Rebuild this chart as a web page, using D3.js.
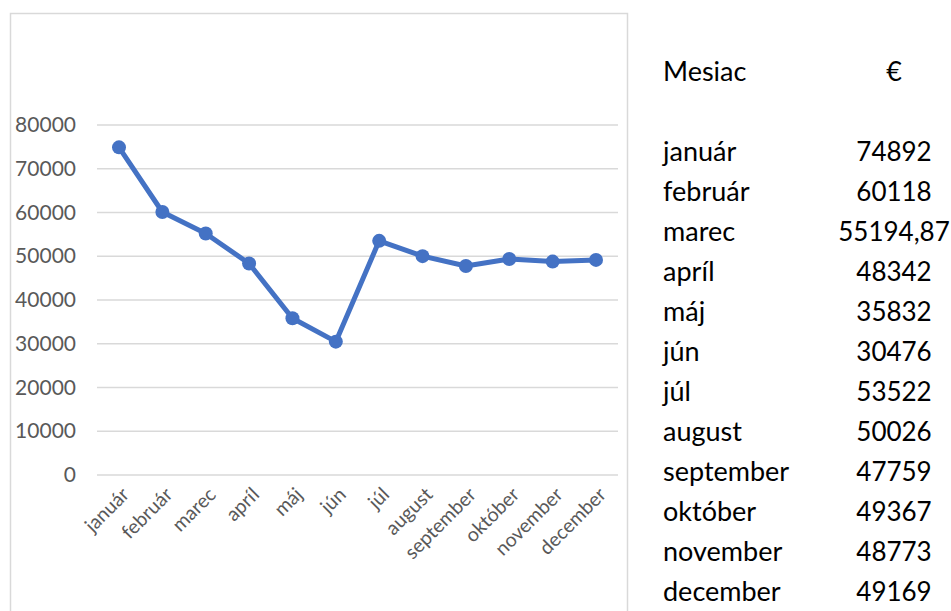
<!DOCTYPE html>
<html>
<head>
<meta charset="utf-8">
<script src="https://cdn.jsdelivr.net/npm/d3@7"></script>
<style>
  body { margin: 0; background: #fff; }
  svg { font-family: Lato, "Open Sans", sans-serif; }
</style>
</head>
<body>
<div id="chart"></div>
<script>
// Data
var months = ["január", "február", "marec", "apríl", "máj", "jún", "júl",
              "august", "september", "október", "november", "december"];
var values = [74892, 60118, 55194.87, 48342, 35832, 30476, 53522,
              50026, 47759, 49367, 48773, 49169];
var valueLabels = ["74892", "60118", "55194,87", "48342", "35832", "30476", "53522",
                   "50026", "47759", "49367", "48773", "49169"];
var yTicks = [0, 10000, 20000, 30000, 40000, 50000, 60000, 70000, 80000];
var tableHeader = ["Mesiac", "€"];

var width = 951, height = 611;

var svg = d3.select("#chart").append("svg")
    .attr("width", width)
    .attr("height", height);

// Chart frame
svg.append("rect")
    .attr("x", 10.5).attr("y", 13.5)
    .attr("width", 617).attr("height", 620)
    .attr("fill", "none")
    .attr("stroke", "#d9d9d9")
    .attr("stroke-width", 1.5);

// Scales
var x = d3.scalePoint()
    .domain(months)
    .range([119, 596]);

var y = d3.scaleLinear()
    .domain([0, 80000])
    .range([475, 125]);

// Gridlines
svg.append("g")
    .selectAll("line")
    .data(yTicks)
    .enter()
    .append("line")
    .attr("x1", 97).attr("x2", 618)
    .attr("y1", function(d) { return y(d); })
    .attr("y2", function(d) { return y(d); })
    .attr("stroke", "#d9d9d9")
    .attr("stroke-width", 1.5);

// Y axis labels
var yAxis = d3.axisLeft(y)
    .tickValues(yTicks)
    .tickFormat(d3.format("d"))
    .tickSize(0)
    .tickPadding(0);

svg.append("g")
    .attr("transform", "translate(76,0)")
    .call(yAxis)
    .call(function(g) { g.select(".domain").remove(); })
    .selectAll("text")
    .attr("fill", "#595959")
    .attr("font-size", "21px")
    .attr("font-family", "Lato, sans-serif");

// X axis labels (rotated)
var xAxis = d3.axisBottom(x).tickSize(0).tickPadding(0);

svg.append("g")
    .attr("transform", "translate(0,484)")
    .call(xAxis)
    .call(function(g) { g.select(".domain").remove(); })
    .selectAll("text")
    .attr("fill", "#595959")
    .attr("font-size", "19.5px")
    .attr("font-family", "Lato, sans-serif")
    .attr("text-anchor", "end")
    .attr("y", 0)
    .attr("dy", "0.35em")
    .attr("transform", "translate(6,7) rotate(-45)");

// Line
var line = d3.line()
    .x(function(d, i) { return x(months[i]); })
    .y(function(d) { return y(d); });

svg.append("path")
    .datum(values)
    .attr("d", line)
    .attr("fill", "none")
    .attr("stroke", "#4472c4")
    .attr("stroke-width", 5)
    .attr("stroke-linejoin", "round");

svg.append("g")
    .selectAll("circle")
    .data(values)
    .enter()
    .append("circle")
    .attr("cx", function(d, i) { return x(months[i]); })
    .attr("cy", function(d) { return y(d); })
    .attr("r", 7)
    .attr("fill", "#4472c4");

// Table on the right
var table = svg.append("g")
    .attr("font-family", "Lato, sans-serif")
    .attr("font-size", "27px")
    .attr("fill", "#000");

table.append("text")
    .attr("x", 663).attr("y", 81)
    .text(tableHeader[0]);

table.append("text")
    .attr("x", 894).attr("y", 81)
    .attr("text-anchor", "middle")
    .text(tableHeader[1]);

var rowY = d3.scalePoint()
    .domain(months)
    .range([161, 601]);

table.selectAll(".month")
    .data(months)
    .enter()
    .append("text")
    .attr("class", "month")
    .attr("x", 663)
    .attr("y", function(d) { return rowY(d); })
    .text(function(d) { return d; });

table.selectAll(".val")
    .data(valueLabels)
    .enter()
    .append("text")
    .attr("class", "val")
    .attr("x", 894)
    .attr("y", function(d, i) { return rowY(months[i]); })
    .attr("text-anchor", "middle")
    .attr("font-size", "26px")
    .text(function(d) { return d; });
</script>
</body>
</html>
